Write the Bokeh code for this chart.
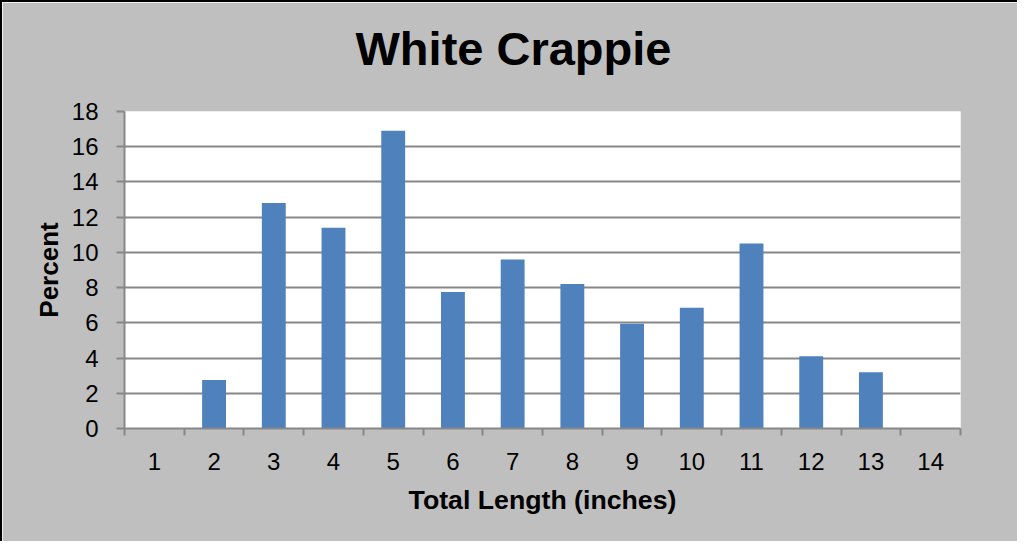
from bokeh.plotting import figure
from bokeh.models import Range1d, FixedTicker, Title
from bokeh.embed import file_html
from bokeh.resources import INLINE

# Data
lengths = [1, 2, 3, 4, 5, 6, 7, 8, 9, 10, 11, 12, 13, 14]
percent = [0, 2.75, 12.8, 11.4, 16.9, 7.75, 9.6, 8.2, 5.95, 6.85, 10.5, 4.1, 3.2, 0]
y_ticks = [0, 2, 4, 6, 8, 10, 12, 14, 16, 18]
title_text = "White Crappie"

FONT = "Liberation Sans"
GRID = "#878787"

p = figure(
    width=1017, height=541,
    x_range=Range1d(0.5, 14.5), y_range=Range1d(0, 18),
    output_backend="svg", toolbar_location=None,
    min_border_left=122, min_border_right=59,
    min_border_top=109, min_border_bottom=115,
)
p.styles = {"border-left": "2px solid black", "border-top": "2px solid black"}

p.border_fill_color = "#BFBFBF"
p.background_fill_color = "white"
p.outline_line_color = None

# spacer between title and plot area
p.add_layout(Title(text=" ", text_font=FONT, text_font_size="10px", standoff=24), "above")
p.add_layout(Title(text=title_text, align="left", offset=231, standoff=0,
                   text_font=FONT, text_font_size="47px", text_font_style="bold",
                   text_color="black"), "above")

p.vbar(x=lengths, top=percent, width=0.4, color="#4F81BD", line_color=None)

# x axis: labels at centres, ticks between categories (minor ticks)
xa = p.xaxis[0]
xa.ticker = FixedTicker(ticks=lengths, minor_ticks=[v - 0.5 for v in lengths] + [lengths[-1] + 0.5])
xa.major_tick_out = 0
xa.major_tick_in = 0
xa.minor_tick_out = 7
xa.minor_tick_in = 0
xa.minor_tick_line_color = GRID
xa.minor_tick_line_width = 2
xa.axis_line_color = GRID
xa.axis_line_width = 2
xa.major_label_text_font = FONT
xa.major_label_text_font_size = "24px"
xa.major_label_text_color = "black"
xa.major_label_standoff = 17
xa.axis_label = "Total Length (inches)"
xa.axis_label_text_font = FONT
xa.axis_label_text_font_size = "26.7px"
xa.axis_label_text_font_style = "bold"
xa.axis_label_text_color = "black"
xa.axis_label_standoff = 12

ya = p.yaxis[0]
ya.ticker = FixedTicker(ticks=y_ticks, minor_ticks=[])
ya.major_tick_out = 8
ya.major_tick_in = 0
ya.major_tick_line_color = GRID
ya.major_tick_line_width = 2
ya.axis_line_color = GRID
ya.axis_line_width = 2
ya.major_label_text_font = FONT
ya.major_label_text_font_size = "24px"
ya.major_label_text_color = "black"
ya.major_label_standoff = 18
ya.axis_label = "Percent"
ya.axis_label_text_font = FONT
ya.axis_label_text_font_size = "26px"
ya.axis_label_text_font_style = "bold"
ya.axis_label_text_color = "black"
ya.axis_label_standoff = 5

p.xgrid.grid_line_color = None
p.ygrid.grid_line_color = GRID
p.ygrid.grid_line_width = 2
p.ygrid.ticker = FixedTicker(ticks=y_ticks)

open("out.html", "w").write(file_html(p, INLINE))
